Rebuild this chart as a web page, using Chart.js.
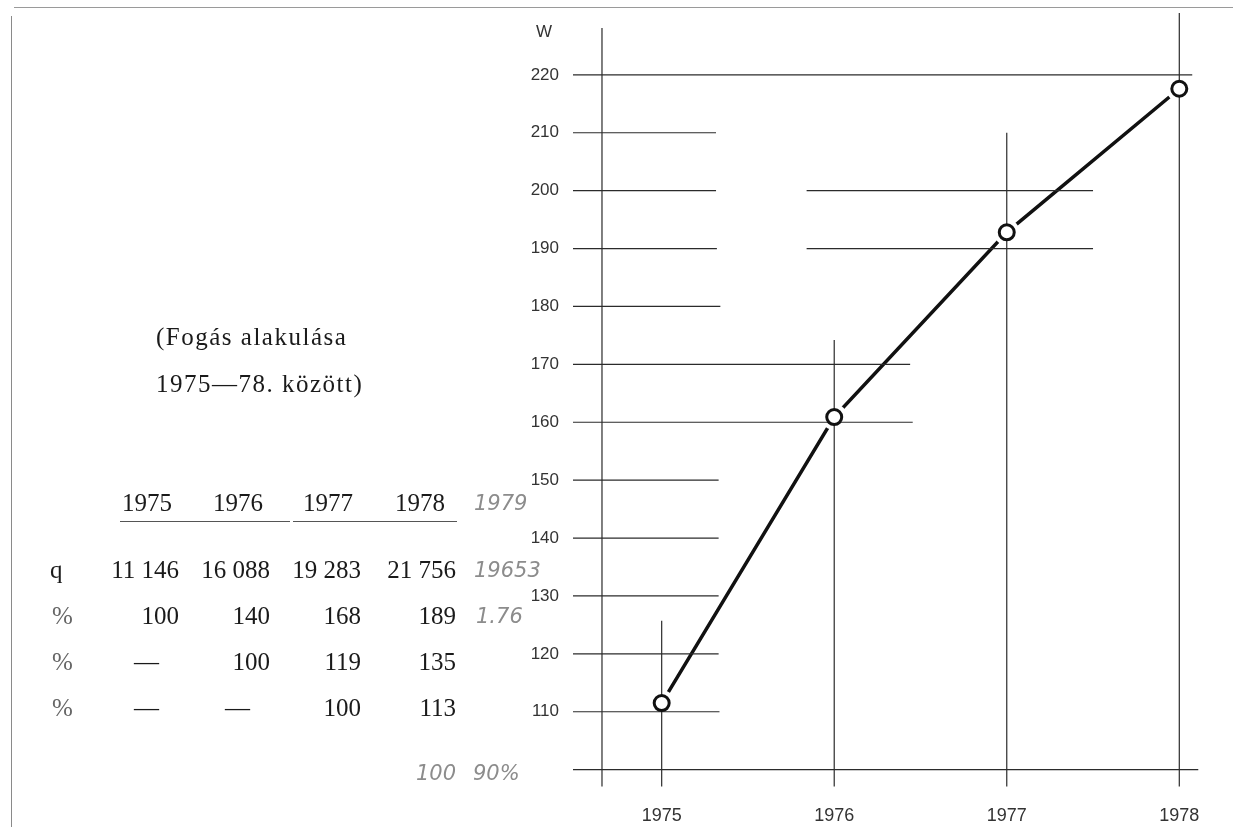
<!DOCTYPE html>
<html lang="hu">
<head>
<meta charset="utf-8">
<title>Fogás alakulása 1975–78</title>
<script src="https://cdn.jsdelivr.net/npm/chart.js@4.4.1/dist/chart.umd.min.js"></script>
<style>
  html, body { margin: 0; padding: 0; background: #fff; }
  #page { position: relative; width: 1233px; height: 827px; overflow: hidden; }
  #chart { position: absolute; left: 0; top: 0; }
  .edge-top { position: absolute; left: 14px; right: 0; top: 7px; height: 0; border-top: 1.5px solid #9a9a9a; }
  .edge-left { position: absolute; left: 11px; top: 16px; bottom: 0; width: 0; border-left: 1.5px solid #8a8a8a; }
  .txt { position: absolute; white-space: nowrap; }
  .serif { font-family: 'Liberation Serif', 'Times New Roman', serif; font-size: 25px; line-height: 25px; color: #1a1a1a; }
  .title { letter-spacing: 1.5px; }
  .cell { width: 90px; text-align: right; }
  .pct { color: #666; }
  .rule { position: absolute; height: 0; border-top: 1.3px solid #555; }
  .hand { font-family: 'DejaVu Sans', sans-serif; font-style: oblique; font-weight: 300; color: #8c8c8c; font-size: 21px; line-height: 21px; }
  .unit { font-family: 'Liberation Sans', Arial, sans-serif; font-size: 17px; line-height: 17px; color: #333; }
</style>
</head>
<body>
<div id="page">
  <canvas id="chart" width="1233" height="827"></canvas>
  <div class="edge-top"></div>
  <div class="edge-left"></div>
  <div id="notes"></div>
</div>
<script>
// --- adatok ---
const years = [1975, 1976, 1977, 1978];
const fogasW = [111.5, 160.9, 192.8, 217.6];
const yTickValues = [110, 120, 130, 140, 150, 160, 170, 180, 190, 200, 210, 220];

// vezetővonalak, adat-egységben (szint, kezdet, vég)
const hLevels = [220, 210, 200, 200, 190, 190, 180, 170, 160, 150, 140, 130, 120, 110, 100];
const hFrom   = [1974.486, 1974.486, 1974.486, 1975.84, 1974.486, 1975.84, 1974.486, 1974.486,
                 1974.486, 1974.486, 1974.486, 1974.486, 1974.486, 1974.486, 1974.486];
const hTo     = [1978.075, 1975.315, 1975.315, 1977.50, 1975.32, 1977.50, 1975.34, 1976.44,
                 1976.455, 1975.33, 1975.33, 1975.33, 1975.33, 1975.335, 1978.11];
const vAt     = [1974.654, 1975, 1976, 1977, 1978];
const vFrom   = [97.1, 97.1, 97.1, 97.1, 97.1];
const vTo     = [228.1, 125.7, 174.2, 210, 230.7];

// táblázat
const tableYears = ['1975', '1976', '1977', '1978'];
const catchQ     = ['11 146', '16 088', '19 283', '21 756'];
const pctOf1975  = ['100', '140', '168', '189'];
const pctOf1976  = ['—', '100', '119', '135'];
const pctOf1977  = ['—', '—', '100', '113'];

// ---------------------------------------------------------------

const notes = document.getElementById('notes');
function addText(cls, text, left, top) {
    const d = document.createElement('div');
    d.className = 'txt ' + cls;
    d.textContent = text;
    d.style.left = left + 'px';
    d.style.top = top + 'px';
    notes.appendChild(d);
    return d;
}

// cím
addText('serif title', '(Fogás alakulása', 156, 324);
addText('serif title', '1975—78. között)', 156, 371);

// táblázat oszlopai (jobb szél)
const colRight = [179, 270, 361, 456];
const headRight = [172, 263, 353, 445];
const rowBaseline = [578, 624, 670, 716];

tableYears.forEach((t, i) => addText('serif cell', t, headRight[i] - 90, 511 - 21));
[[catchQ, 'q', ''], [pctOf1975, '%', ' pct'], [pctOf1976, '%', ' pct'], [pctOf1977, '%', ' pct']]
    .forEach(([row, label, extra], r) => {
        addText('serif' + extra, label, r === 0 ? 50 : 52, rowBaseline[r] - 21);
        row.forEach((v, i) => {
            const shift = v === '—' ? 20 : 0;   // a gondolatjel beljebb áll
            addText('serif cell', v, colRight[i] - 90 - shift, rowBaseline[r] - 21);
        });
    });

const rule1 = document.createElement('div');
rule1.className = 'rule';
rule1.style.cssText = 'left:120px;width:170px;top:521px;';
notes.appendChild(rule1);
const rule2 = document.createElement('div');
rule2.className = 'rule';
rule2.style.cssText = 'left:293px;width:164px;top:521px;';
notes.appendChild(rule2);

// ceruzás kézírás
addText('hand', '1979', 474, 493);
addText('hand', '19653', 474, 560);
addText('hand', '1.76', 476, 606);
addText('hand', '100', 416, 763);
addText('hand', '90%', 473, 763);

// tengelyfelirat
addText('unit', 'W', 536, 23);

// ---------------------------------------------------------------
// diagram

const guideStyle = { borderColor: '#2b2b2b', borderWidth: 1.2, pointRadius: 0, showLine: true,
                     fill: false, clip: false, order: 1 };
const datasets = [];

hLevels.forEach((lvl, i) => {
    datasets.push(Object.assign({
        data: [{ x: hFrom[i], y: lvl }, { x: hTo[i], y: lvl }]
    }, guideStyle));
});
vAt.forEach((xv, i) => {
    datasets.push(Object.assign({
        data: [{ x: xv, y: vFrom[i] }, { x: xv, y: vTo[i] }]
    }, guideStyle));
});

const points = years.map((y, i) => ({ x: y, y: fogasW[i] }));

// fő görbe
datasets.push({
    data: points,
    showLine: true,
    borderColor: '#111',
    borderWidth: 3.5,
    pointRadius: 0,
    tension: 0,
    order: 3
});
// fehér "rés" a karikák körül
datasets.push({
    data: points,
    showLine: false,
    pointRadius: 13,
    pointBackgroundColor: '#fff',
    pointBorderWidth: 0,
    order: 2
});
// karikák
datasets.push({
    data: points,
    showLine: false,
    pointRadius: 7.5,
    pointBackgroundColor: '#fff',
    pointBorderColor: '#111',
    pointBorderWidth: 3,
    clip: false,
    order: 0
});

Chart.defaults.font.family = "'Liberation Sans', Arial, sans-serif";
Chart.defaults.color = '#333';

new Chart(document.getElementById('chart'), {
    type: 'scatter',
    data: { datasets: datasets },
    options: {
        responsive: false,
        animation: false,
        events: [],
        layout: { padding: { left: 0, right: 33, top: 24, bottom: 0 } },
        plugins: {
            legend: { display: false },
            tooltip: { enabled: false }
        },
        scales: {
            x: {
                type: 'linear',
                min: 1974.486,
                max: 1978.12,
                grid: { display: false, drawTicks: false },
                border: { display: false },
                afterFit: (axis) => { axis.height = 40; },
                afterBuildTicks: (axis) => { axis.ticks = years.map(v => ({ value: v })); },
                ticks: {
                    font: { size: 18 },
                    padding: 18,
                    maxRotation: 0,
                    autoSkip: false,
                    callback: (v) => String(v)
                }
            },
            y: {
                type: 'linear',
                min: 97,
                max: 228.75,
                grid: { display: false, drawTicks: false },
                border: { display: false },
                afterFit: (axis) => { axis.width = 573; },
                afterBuildTicks: (axis) => { axis.ticks = yTickValues.map(v => ({ value: v })); },
                ticks: {
                    font: { size: 17 },
                    padding: 14,
                    autoSkip: false,
                    callback: (v) => String(v)
                }
            }
        }
    }
});
</script>
</body>
</html>
